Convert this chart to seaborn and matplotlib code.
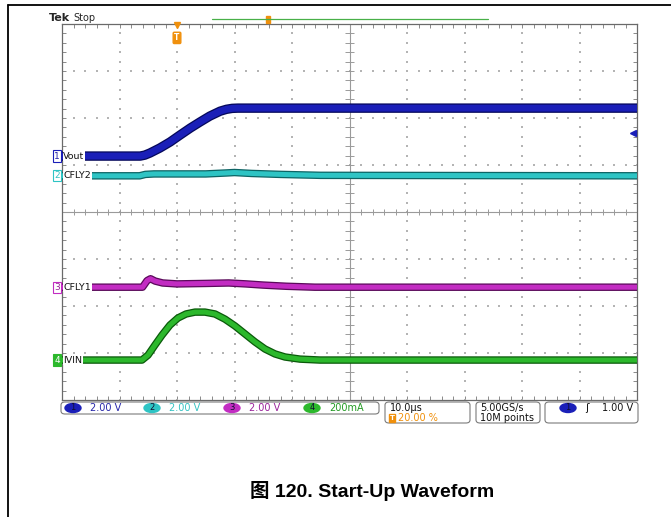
import numpy as np
import pandas as pd
import matplotlib
matplotlib.use("Agg")
import matplotlib.pyplot as plt
import seaborn as sns
import matplotlib.patheffects as pe
from matplotlib.patches import FancyBboxPatch, Ellipse, Rectangle
from matplotlib.lines import Line2D

# ---------------- data ----------------
# time in microseconds (trigger at t=0), 10 us/div, trigger at 20 % of record
time_per_div = 10.0
trigger_pos_div = 2.0

vout_t = [-20, -6.4, -5.6, -4.7, -3.0, -1.2, 0.5, 2.3, 4.0, 5.7, 7.5, 8.6, 9.6, 10.6, 80]
vout_v = [0.0, 0.0, 0.04, 0.13, 0.34, 0.60, 0.89, 1.19, 1.45, 1.70, 1.91, 1.99, 2.03, 2.04, 2.04]

cfly2_t = [-20, -6.5, -5.5, -4.0, 5.0, 8.5, 10.0, 13.0, 18.0, 25.0, 80]
cfly2_v = [0.0, 0.0, 0.06, 0.08, 0.08, 0.12, 0.14, 0.10, 0.06, 0.02, 0.0]

cfly1_t = [-20, -6.0, -5.2, -4.6, -3.8, -2.5, 0.0, 5.0, 9.0, 12.0, 15.0, 19.0, 24.0, 80]
cfly1_v = [0.0, 0.0, 0.28, 0.36, 0.26, 0.18, 0.14, 0.16, 0.18, 0.14, 0.09, 0.04, 0.0, 0.0]

ivin_t = [-20, -6.09, -5.04, -3.83, -2.61, -1.22, 0.17, 1.57, 3.13, 4.87, 6.61, 8.35,
          10.09, 11.83, 13.57, 15.30, 17.04, 18.78, 21.39, 24.87, 80]
ivin_ma = [0, 0, 21, 64, 106, 149, 179, 196, 204, 204, 196, 174,
           145, 111, 77, 47, 26, 13, 4, 0, 0]

channels = ["1", "2", "3", "4"]
labels = ["Vout", "CFLY2", "CFLY1", "IVIN"]
scale_text = ["2.00 V", "2.00 V", "2.00 V", "200mA"]
volts_per_div = [2.0, 2.0, 2.0, 200.0]
ground_div = [1.19, 0.77, -1.60, -3.15]
trigger_level_v = 1.00

colors = ["#1a1fb8", "#2ec4c4", "#c22cc2", "#2cb82c"]
edges = ["#05085a", "#0d6464", "#5a0a5a", "#0a5a0a"]
text_colors = ["#2424a8", "#34c2c2", "#9a229a", "#229a22"]
widths = [5.0, 3.6, 3.6, 3.6]

# ---------------- figure ----------------
W, H = 671, 517
sns.set_style("white")
plt.rcParams["font.family"] = ["DejaVu Sans", "Noto Sans CJK SC"]
fig = plt.figure(figsize=(W / 100, H / 100), dpi=100)


def fx(x):
    return x / W


def fy(y):
    return 1 - y / H


ax = fig.add_axes([fx(62), fy(400), (637 - 62) / W, (400 - 24) / H])
ax.set_xlim(0, 10)
ax.set_ylim(-4, 4)
for s in ax.spines.values():
    s.set_color("#6a6a6a")
    s.set_linewidth(0.9)
ax.set_xticks(np.arange(0, 10.01, 1))
ax.set_yticks(np.arange(-4, 4.01, 1))
ax.set_xticks(np.arange(0, 10.01, 0.2), minor=True)
ax.set_yticks(np.arange(-4, 4.01, 0.2), minor=True)
ax.tick_params(which="both", direction="in", top=True, right=True, bottom=True, left=True,
               length=3, width=0.7, color="#8a8a8a", labelbottom=False, labelleft=False)

# graticule dots
dx, dy = [], []
for gx in range(1, 10):
    if gx == 5:
        continue
    for yy in np.arange(-4, 4.01, 0.2):
        dx.append(gx); dy.append(yy)
for gy in range(-3, 4):
    if gy == 0:
        continue
    for xx in np.arange(0, 10.01, 0.2):
        dx.append(xx); dy.append(gy)
ax.scatter(dx, dy, s=1.3, marker="s", color="#b4b4b4", linewidths=0, zorder=1)
ax.axhline(0, color="#9a9a9a", lw=0.8, zorder=1)
ax.axvline(5, color="#9a9a9a", lw=0.8, zorder=1)
ax.vlines(np.arange(0, 10.01, 0.2), -0.07, 0.07, color="#9a9a9a", lw=0.7, zorder=1)
ax.hlines(np.arange(-4, 4.01, 0.2), 4.92, 5.08, color="#9a9a9a", lw=0.7, zorder=1)

# traces
series = [(vout_t, vout_v), (cfly2_t, cfly2_v), (cfly1_t, cfly1_v), (ivin_t, ivin_ma)]
for i, (t, v) in enumerate(series):
    df = pd.DataFrame({
        "x": np.array(t) / time_per_div + trigger_pos_div,
        "y": np.array(v) / volts_per_div[i] + ground_div[i],
    })
    sns.lineplot(data=df, x="x", y="y", ax=ax, color=colors[i], lw=widths[i],
                 estimator=None, sort=False, zorder=3 + i,
                 path_effects=[pe.Stroke(linewidth=widths[i] + 1.8, foreground=edges[i]), pe.Normal()],
                 solid_joinstyle="round", solid_capstyle="butt")
ax.set_xlim(0, 10)
ax.set_ylim(-4, 4)
ax.set_xlabel("")
ax.set_ylabel("")

# channel ground markers and labels
for i in range(4):
    ax.annotate(channels[i], xy=(0, ground_div[i]), xycoords=("axes fraction", "data"),
                xytext=(-1.5, 0), textcoords="offset points", ha="right", va="center",
                fontsize=6.5, color=text_colors[i] if i != 3 else "white",
                annotation_clip=False, zorder=20,
                bbox=dict(boxstyle="square,pad=0.12", fc="white" if i != 3 else colors[i],
                          ec=colors[i], lw=0.8))
    ax.annotate(labels[i], xy=(0, ground_div[i]), xycoords=("axes fraction", "data"),
                xytext=(1, 0), textcoords="offset points", ha="left", va="center",
                fontsize=6.8, color="#111111", zorder=20,
                bbox=dict(boxstyle="square,pad=0.05", fc="white", ec="none"))

# trigger level arrow (right edge)
trig_y = ground_div[0] + trigger_level_v / volts_per_div[0]
ax.plot([9.93], [trig_y], marker="<", ms=4.5, color=colors[0], clip_on=False, zorder=20)

# trigger position marker (top)
orange = "#f0900c"
ax.plot([trigger_pos_div], [3.97], marker="v", ms=4, color=orange, clip_on=False, zorder=20)
ax.annotate("T", xy=(trigger_pos_div, 4), xycoords="data", xytext=(0, -10),
            textcoords="offset points", ha="center", va="center", fontsize=5.5,
            fontweight="bold", color="white", zorder=21,
            bbox=dict(boxstyle="round,pad=0.15", fc=orange, ec=orange))

# header
fig.text(fx(49), fy(18), "Tek", fontsize=8, fontweight="bold", ha="left", va="center")
fig.text(fx(73), fy(18), "Stop", fontsize=7, ha="left", va="center")
fig.add_artist(Line2D([fx(212), fx(488)], [fy(19), fy(19)], color="#48b048", lw=0.9))
fig.add_artist(Rectangle((fx(266), fy(23)), 4 / W, 7 / H, color=orange, transform=fig.transFigure))

# outer frame
fig.add_artist(Line2D([fx(8), fx(671)], [fy(5), fy(5)], color="black", lw=1.3))
fig.add_artist(Line2D([fx(8), fx(8)], [fy(5), fy(517)], color="black", lw=1.3))


# status bar
def box(x0, x1, y0, y1):
    fig.add_artist(FancyBboxPatch((fx(x0), fy(y1)), (x1 - x0) / W, (y1 - y0) / H,
                                  boxstyle="round,pad=0,rounding_size=0.006",
                                  transform=fig.transFigure, fc="white", ec="#7a7a7a", lw=0.8))


box(61, 379, 402, 414)
box(385, 470, 402, 423)
box(476, 540, 402, 423)
box(545, 638, 402, 423)

ell_x = [73, 152, 232, 312]
for i in range(4):
    fig.add_artist(Ellipse((fx(ell_x[i]), fy(408)), 16 / W, 9 / H, color=colors[i],
                           transform=fig.transFigure))
    fig.text(fx(ell_x[i]), fy(408), channels[i], fontsize=6, ha="center", va="center",
             color="#101030")
    fig.text(fx(ell_x[i] + 17), fy(408), scale_text[i], fontsize=7, ha="left", va="center",
             color=text_colors[i])

fig.text(fx(390), fy(408), "10.0\u00b5s", fontsize=7, ha="left", va="center", color="#111111")
fig.text(fx(392), fy(418), "T", fontsize=5, ha="center", va="center", color="white",
         fontweight="bold", bbox=dict(boxstyle="square,pad=0.1", fc=orange, ec=orange))
fig.text(fx(398), fy(418), "20.00 %", fontsize=7, ha="left", va="center", color=orange)
fig.text(fx(480), fy(408), "5.00GS/s", fontsize=7, ha="left", va="center", color="#111111")
fig.text(fx(480), fy(418), "10M points", fontsize=7, ha="left", va="center", color="#111111")
fig.add_artist(Ellipse((fx(568), fy(408)), 16 / W, 9 / H, color=colors[0], transform=fig.transFigure))
fig.text(fx(568), fy(408), channels[0], fontsize=6, ha="center", va="center", color="#101030")
fig.text(fx(587), fy(408), "\u0283", fontsize=7.5, ha="center", va="center", color="#111111")
fig.text(fx(633), fy(408), "%.2f V" % trigger_level_v, fontsize=7, ha="right", va="center",
         color="#111111")

# caption
fig.text(fx(372), fy(491), "图 120. Start-Up Waveform", fontsize=14, fontweight="bold",
         ha="center", va="center", color="black",
         family=["Liberation Sans", "Noto Sans CJK SC"])

fig.savefig("out.png", dpi=100)
